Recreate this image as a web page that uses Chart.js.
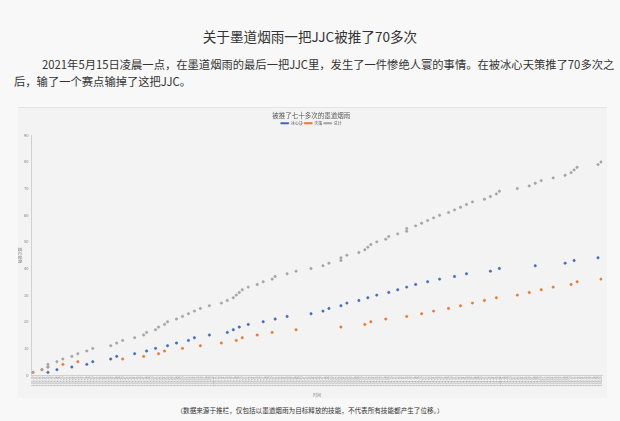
<!DOCTYPE html>
<html>
<head>
<meta charset="utf-8">
<script src="https://cdn.jsdelivr.net/npm/chart.js@4.4.1/dist/chart.umd.min.js"></script>
<style>
    body { margin: 0; width: 620px; height: 421px; overflow: hidden; position: relative; background: #f8f8f8; color: #333; font-family: "Noto Sans CJK SC", "Noto Sans", sans-serif; }
    #title { position: absolute; left: 0; top: 27px; width: 620px; line-height: 18px; font-size: 13.6px; text-align: center; }
    #para { position: absolute; left: 14px; top: 56px; line-height: 17px; font-size: 11.3px; white-space: nowrap; }
    #para .first { padding-left: 28px; }
    #box { position: absolute; left: 18px; top: 107px; width: 589px; height: 290px; background: #f3f3f3; border-top: 1px solid #e4e4e4; }
    #note { position: absolute; left: 0; top: 405px; width: 620px; line-height: 10px; font-size: 6.6px; text-align: center; }
</style>
</head>
<body>
<div id="title">关于墨道烟雨一把JJC被推了70多次</div>
<div id="para"><span class="first">2021年5月15日凌晨一点，在墨道烟雨的最后一把JJC里，发生了一件惨绝人寰的事情。在被冰心天策推了70多次之</span><br>后，输了一个赛点输掉了这把JJC。</div>
<div id="box"><canvas id="chart" width="589" height="290"></canvas></div>
<div id="note">（数据来源于推栏，仅包括以墨道烟雨为目标释放的技能，不代表所有技能都产生了位移。）</div>
<script>
    // 每次被推的时间（从开场起的秒数）和累计次数
    var blueSec = [5, 8, 13, 18, 20, 26, 28, 34, 38, 41, 45, 48, 52, 54, 59, 65, 67, 69, 72, 77, 81, 85, 93, 97, 99, 103, 105, 109, 112, 115, 119, 122, 125, 128, 132, 136, 141, 145, 153, 156, 168, 178, 181, 189];
    var blueCount = [1, 2, 3, 4, 5, 6, 7, 8, 9, 10, 11, 12, 13, 14, 15, 16, 17, 18, 19, 20, 21, 22, 23, 24, 25, 26, 27, 28, 29, 30, 31, 32, 33, 34, 35, 36, 37, 38, 39, 40, 41, 42, 43, 44];
    var orangeSec = [0, 3, 5, 10, 15, 30, 37, 42, 44, 50, 56, 63, 68, 70, 75, 80, 88, 103, 111, 113, 118, 125, 130, 134, 139, 143, 147, 151, 155, 162, 166, 170, 174, 180, 182, 190];
    var orangeCount = [1, 2, 3, 4, 5, 6, 7, 8, 9, 10, 11, 12, 13, 14, 15, 16, 17, 18, 19, 20, 21, 22, 23, 24, 25, 26, 27, 28, 29, 30, 31, 32, 33, 34, 35, 36];
    var totalSec = [0, 3, 5, 5, 8, 10, 13, 15, 18, 20, 26, 28, 30, 34, 37, 38, 41, 42, 44, 45, 48, 50, 52, 54, 56, 59, 63, 65, 67, 68, 69, 70, 72, 75, 77, 80, 81, 85, 88, 93, 97, 99, 103, 103, 105, 109, 111, 112, 113, 115, 118, 119, 122, 125, 125, 128, 130, 132, 134, 136, 139, 141, 143, 145, 147, 151, 153, 155, 156, 162, 166, 168, 170, 174, 178, 180, 181, 182, 189, 190];
    var totalCount = [1, 2, 3, 4, 5, 6, 7, 8, 9, 10, 11, 12, 13, 14, 15, 16, 17, 18, 19, 20, 21, 22, 23, 24, 25, 26, 27, 28, 29, 30, 31, 32, 33, 34, 35, 36, 37, 38, 39, 40, 41, 42, 43, 44, 45, 46, 47, 48, 49, 50, 51, 52, 53, 54, 55, 56, 57, 58, 59, 60, 61, 62, 63, 64, 65, 66, 67, 68, 69, 70, 71, 72, 73, 74, 75, 76, 77, 78, 79, 80];
    var seriesNames = ["冰心诀", "天策", "总计"];
    var chartTitle = "被推了七十多次的墨道烟雨";
    var startClock = [1, 2, 10];   // 横轴起点 1:02:10
    var lastSec = 190;

    function toPoints(xs, ys) {
        return xs.map(function(x, i) { return { x: x, y: ys[i] }; });
    }
    function pad(n) { return n < 10 ? "0" + n : "" + n; }
    function clock(v) {
        var t = startClock[0] * 3600 + startClock[1] * 60 + startClock[2] + v;
        return Math.floor(t / 3600) + ":" + pad(Math.floor(t % 3600 / 60)) + ":" + pad(t % 60);
    }

    Chart.defaults.font.family = '"Noto Sans CJK SC", "Noto Sans", sans-serif';
    var ctx = document.getElementById("chart").getContext("2d");
    var chart = new Chart(ctx, {
        type: "scatter",
        data: {
            datasets: [{
                label: seriesNames[0],
                data: toPoints(blueSec, blueCount),
                backgroundColor: "#4270c0",
                borderColor: "#3c64ad",
                borderWidth: 0.5,
                pointRadius: 1.2,
                order: 1
            }, {
                label: seriesNames[1],
                data: toPoints(orangeSec, orangeCount),
                backgroundColor: "#ed7d31",
                borderColor: "#e0732a",
                borderWidth: 0.5,
                pointRadius: 1.2,
                order: 2
            }, {
                label: seriesNames[2],
                data: toPoints(totalSec, totalCount),
                backgroundColor: "#a8a8a8",
                borderColor: "#9c9c9c",
                borderWidth: 0.5,
                pointRadius: 1.2,
                order: 0
            }]
        },
        options: {
            responsive: false,
            animation: false,
            layout: { padding: { left: 0, right: 2.5, top: 0, bottom: 0 } },
            plugins: {
                title: {
                    display: true,
                    text: chartTitle,
                    color: "#595959",
                    font: { size: 6.5, weight: "normal" },
                    padding: { top: 4, bottom: 0 }
                },
                legend: {
                    position: "top",
                    labels: {
                        boxWidth: 8,
                        boxHeight: 1.5,
                        color: "#595959",
                        font: { size: 4 },
                        padding: 1.5,
                        sort: function(a, b) { return a.datasetIndex - b.datasetIndex; }
                    }
                },
                tooltip: { enabled: false }
            },
            scales: {
                x: {
                    type: "linear",
                    min: -0.5,
                    max: lastSec + 0.5,
                    grid: { display: false, drawTicks: false },
                    border: { color: "#d0d0d0", width: 1 },
                    afterBuildTicks: function(scale) {
                        var t = [];
                        for (var i = 0; i <= lastSec; i++) t.push({ value: i });
                        scale.ticks = t;
                    },
                    ticks: {
                        autoSkip: false,
                        minRotation: 90,
                        maxRotation: 90,
                        padding: 1.5,
                        color: "#8a8a8a",
                        font: { size: 3 },
                        callback: function(v) { return clock(v); }
                    },
                    title: { display: true, text: "时间", color: "#808080", font: { size: 4 }, padding: 0 },
                    afterFit: function(scale) { scale.height = 23; }
                },
                y: {
                    min: 0,
                    max: 90,
                    grid: { display: false, drawTicks: false },
                    border: { color: "#d0d0d0", width: 1 },
                    ticks: { stepSize: 10, color: "#808080", font: { size: 4 }, padding: 3 },
                    title: { display: true, text: "被推次数", color: "#808080", font: { size: 4 }, padding: 0 },
                    afterFit: function(scale) { scale.width = 13.5; }
                }
            }
        }
    });
</script>
</body>
</html>
